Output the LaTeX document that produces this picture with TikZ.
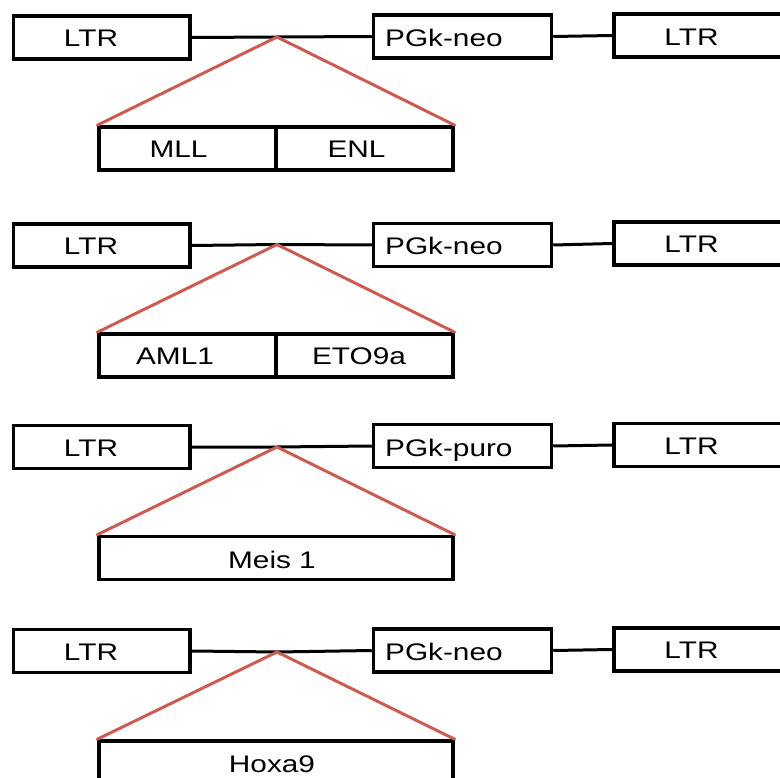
\documentclass[tikz,border=0pt]{standalone}
\usepackage{fontspec}
\setmainfont{Liberation Sans}[FakeStretch=1.24]
\definecolor{redline}{RGB}{202,92,82}
\tikzset{
  box/.style={draw=black, line width=3.5pt, rectangle, inner sep=0pt, minimum height=43pt},
  ltrbox/.style={box, minimum width=176.5pt},
  pgkbox/.style={box, minimum width=178pt},
  rltrbox/.style={box, minimum width=186pt},
  halfbox/.style={box, minimum width=177pt},
  fullbox/.style={box, minimum width=354pt},
  lbl/.style={inner sep=0pt, anchor=base, font=\fontsize{24}{24}\selectfont},
  lbll/.style={lbl, anchor=base west},
  link/.style={draw=black, line width=3pt},
  insert/.style={draw=redline, line width=3pt, line cap=round}
}
\begin{document}
\begin{tikzpicture}[x=1pt, y=-1pt]
\useasboundingbox (0,0) rectangle (780,778);
\clip (0,0) rectangle (780,778);
% ---------- Row 1 ----------
\node[ltrbox]  (L1) at (101.75,37.5) {};
\node[pgkbox]  (P1) at (462.5,36.5) {};
\node[rltrbox] (R1) at (707,35.5) {};
\coordinate (A1) at (277,37);
\draw[link] (L1.east) -- (A1) -- (P1.west);
\draw[link] (P1.east) -- (R1.west);
\node[halfbox] (B1a) at (187.5,148.5) {};
\node[halfbox] (B1b) at (364.5,148.5) {};
\draw[insert] (B1a.north west) -- (A1) -- (B1b.north east);
\node[lbl]  (tL1) at (91,46.7) {LTR};
\node[lbll] (tP1) at (385,46.5) {PGk-neo};
\node[lbl]  (tR1) at (691.5,45.5) {LTR};
\node[lbl]  (tB1a) at (178.5,158) {MLL};
\node[lbl]  (tB1b) at (356.5,158) {ENL};
% ---------- Row 2 ----------
\node[ltrbox]  (L2) at (101.75,245.5) {};
\node[pgkbox]  (P2) at (462.5,245) {};
\node[rltrbox] (R2) at (707,243.5) {};
\coordinate (A2) at (277,244.5);
\draw[link] (L2.east) -- (A2) -- (P2.west);
\draw[link] (P2.east) -- (R2.west);
\node[halfbox] (B2a) at (187.5,355.5) {};
\node[halfbox] (B2b) at (364.5,355.5) {};
\draw[insert] (B2a.north west) -- (A2) -- (B2b.north east);
\node[lbl]  (tL2) at (91,255) {LTR};
\node[lbll] (tP2) at (385,254.5) {PGk-neo};
\node[lbl]  (tR2) at (691.5,253) {LTR};
\node[lbl]  (tB2a) at (175,365) {AML1};
\node[lbl]  (tB2b) at (359,365) {ETO9a};
% ---------- Row 3 ----------
\node[ltrbox]  (L3) at (101.75,447) {};
\node[pgkbox]  (P3) at (462.5,446) {};
\node[rltrbox] (R3) at (707,445) {};
\coordinate (A3) at (277,447);
\draw[link] (L3.east) -- (A3) -- (P3.west);
\draw[link] (P3.east) -- (R3.west);
\node[fullbox] (B3) at (276,558) {};
\draw[insert] (B3.north west) -- (A3) -- (B3.north east);
\node[lbl]  (tL3) at (91,456.5) {LTR};
\node[lbll] (tP3) at (385,456) {PGk-puro};
\node[lbl]  (tR3) at (691.5,454.5) {LTR};
\node[lbl]  (tB3) at (272,568) {Meis 1};
% ---------- Row 4 ----------
\node[ltrbox]  (L4) at (101.75,651) {};
\node[pgkbox]  (P4) at (462.5,650.5) {};
\node[rltrbox] (R4) at (707,649.5) {};
\coordinate (A4) at (277,652);
\draw[link] (L4.east) -- (A4) -- (P4.west);
\draw[link] (P4.east) -- (R4.west);
\node[fullbox] (B4) at (276,762.5) {};
\draw[insert] (B4.north west) -- (A4) -- (B4.north east);
\node[lbl]  (tL4) at (91,660.5) {LTR};
\node[lbll] (tP4) at (385,660) {PGk-neo};
\node[lbl]  (tR4) at (691.5,658.5) {LTR};
\node[lbl]  (tB4) at (272,772.5) {Hoxa9};
\end{tikzpicture}
\end{document}
